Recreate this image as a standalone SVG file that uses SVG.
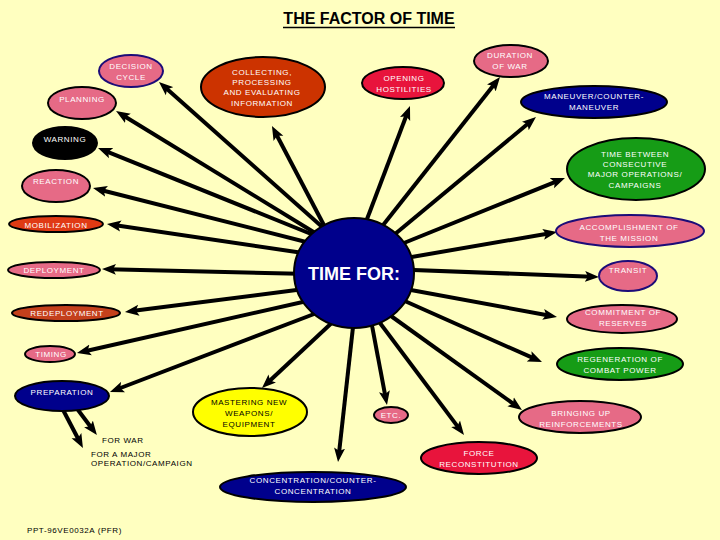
<svg xmlns="http://www.w3.org/2000/svg" width="720" height="540" viewBox="0 0 720 540">
<defs>
<style>
text{font-family:"Liberation Sans",Arial,sans-serif;}
.t{font-size:8px;letter-spacing:0.6px;fill:#fff;text-anchor:middle;}
.k{font-size:8px;letter-spacing:0.6px;fill:#000;}
.pink{fill:#E66A86;stroke:#000;stroke-width:2;}
.pinkb{fill:#E66A86;stroke:#1C0C78;stroke-width:2;}
.navy{fill:#00008C;stroke:#000;stroke-width:2;}
.green{fill:#169C16;stroke:#000;stroke-width:2;}
.red{fill:#E8143C;stroke:#000;stroke-width:2;}
.brown{fill:#CC3300;stroke:#000;stroke-width:2;}
.orange{fill:#E03A14;stroke:#000;stroke-width:2;}
.rust{fill:#C4401C;stroke:#000;stroke-width:2;}
.black{fill:#000;stroke:#000;stroke-width:2;}
.yellow{fill:#FFFF00;stroke:#000;stroke-width:2;}
#connectors line{stroke:#000;stroke-width:4;marker-end:url(#ah);}
</style>
<marker id="ah" markerUnits="userSpaceOnUse" markerWidth="16" markerHeight="12" viewBox="0 -6 16 12" refX="7" refY="0" orient="auto">
<path d="M0,-5.5 L14,0 L0,5.5 L3,0 Z" fill="#000"/>
</marker>
</defs>
<rect width="720" height="540" fill="#FFFFC0"/>
<g id="title">
<text x="369" y="24" font-size="16" text-anchor="middle" font-weight="bold">THE FACTOR OF TIME</text>
<line x1="283" y1="27.5" x2="455" y2="27.5" stroke="#000" stroke-width="1.6"/>
</g>
<g id="connectors">
<line x1="329" y1="233" x2="164.2" y2="86.6"/>
<line x1="325" y1="239" x2="122" y2="114.7"/>
<line x1="321" y1="238" x2="104.5" y2="150.6"/>
<line x1="314" y1="244" x2="99.8" y2="189.7"/>
<line x1="310" y1="254" x2="113.9" y2="225"/>
<line x1="310" y1="274" x2="109" y2="269.2"/>
<line x1="312" y1="288" x2="131.9" y2="311.1"/>
<line x1="316" y1="299" x2="83.8" y2="351.5"/>
<line x1="322" y1="311" x2="116.5" y2="389.5"/>
<line x1="337" y1="318" x2="267.1" y2="383.2"/>
<line x1="354" y1="318" x2="338.8" y2="455"/>
<line x1="370" y1="315" x2="385.7" y2="398.1"/>
<line x1="377" y1="319" x2="459.8" y2="429.4"/>
<line x1="384" y1="311" x2="516.3" y2="405.9"/>
<line x1="398" y1="298" x2="535.6" y2="359.2"/>
<line x1="400" y1="288" x2="550.1" y2="315.7"/>
<line x1="400" y1="269.5" x2="592" y2="276.7"/>
<line x1="400" y1="259" x2="550.1" y2="233.2"/>
<line x1="394" y1="247" x2="558.5" y2="180.6"/>
<line x1="383" y1="244" x2="530.6" y2="121.5"/>
<line x1="380" y1="229" x2="495.7" y2="82.5"/>
<line x1="364" y1="227" x2="407.5" y2="112.5"/>
<line x1="327" y1="231" x2="275.2" y2="132.2"/>
<line x1="61" y1="406" x2="79.7" y2="441.8"/>
<line x1="75" y1="406" x2="92.7" y2="429.5"/>
</g>
<g id="center"><ellipse cx="354" cy="273" rx="60" ry="55" class="navy"/><text x="354" y="280" font-size="18" font-weight="bold" fill="#fff" text-anchor="middle">TIME FOR:</text></g>
<g id="decision-cycle"><ellipse cx="131" cy="71" rx="32" ry="16" class="pinkb"/><text class="t" x="131" y="69">DECISION</text><text class="t" x="131" y="80">CYCLE</text></g>
<g id="planning"><ellipse cx="82" cy="103" rx="34" ry="16" class="pink"/><text class="t" x="82" y="102">PLANNING</text></g>
<g id="warning"><ellipse cx="65" cy="143" rx="32" ry="16" class="black"/><text class="t" x="65" y="142">WARNING</text></g>
<g id="reaction"><ellipse cx="56" cy="186" rx="34" ry="16" class="pink"/><text class="t" x="56" y="184">REACTION</text></g>
<g id="mobilization"><ellipse cx="56" cy="224" rx="47" ry="8" class="orange"/><text class="t" x="56" y="228">MOBILIZATION</text></g>
<g id="deployment"><ellipse cx="54" cy="270" rx="46" ry="8" class="pink"/><text class="t" x="54" y="273">DEPLOYMENT</text></g>
<g id="redeployment"><ellipse cx="66" cy="313" rx="54" ry="8" class="rust"/><text class="t" x="67" y="316">REDEPLOYMENT</text></g>
<g id="timing"><ellipse cx="50" cy="354" rx="25" ry="8" class="pink"/><text class="t" x="51" y="357">TIMING</text></g>
<g id="preparation"><ellipse cx="62" cy="396" rx="47" ry="15" class="navy"/><text class="t" x="62" y="395">PREPARATION</text></g>
<g id="for-war"><text class="k" x="102" y="443">FOR WAR</text></g>
<g id="for-major"><text class="k" x="91" y="457">FOR A MAJOR</text><text class="k" x="91" y="466">OPERATION/CAMPAIGN</text></g>
<g id="mastering"><ellipse cx="250" cy="412" rx="57" ry="24" class="yellow"/><text class="t" style="fill:#000" x="249" y="405">MASTERING NEW</text><text class="t" style="fill:#000" x="249" y="416">WEAPONS/</text><text class="t" style="fill:#000" x="249" y="427">EQUIPMENT</text></g>
<g id="concentration"><ellipse cx="313" cy="487" rx="93" ry="15" class="navy"/><text class="t" x="313" y="483">CONCENTRATION/COUNTER-</text><text class="t" x="313" y="494">CONCENTRATION</text></g>
<g id="etc"><ellipse cx="391" cy="415" rx="17" ry="8" class="pink"/><text class="t" x="391" y="418">ETC.</text></g>
<g id="force-reconstitution"><ellipse cx="479" cy="458" rx="58" ry="16" class="red"/><text class="t" x="479" y="456">FORCE</text><text class="t" x="479" y="467">RECONSTITUTION</text></g>
<g id="bringing-up"><ellipse cx="580" cy="417" rx="61" ry="16" class="pink"/><text class="t" x="581" y="416">BRINGING UP</text><text class="t" x="581" y="427">REINFORCEMENTS</text></g>
<g id="regeneration"><ellipse cx="620" cy="364" rx="63" ry="16" class="green"/><text class="t" x="620" y="362">REGENERATION OF</text><text class="t" x="620" y="373">COMBAT POWER</text></g>
<g id="commitment"><ellipse cx="622" cy="319" rx="55" ry="14" class="pink"/><text class="t" x="623" y="315">COMMITMENT OF</text><text class="t" x="623" y="326">RESERVES</text></g>
<g id="transit"><ellipse cx="628" cy="276" rx="29" ry="15" class="pinkb"/><text class="t" x="628" y="273">TRANSIT</text></g>
<g id="accomplishment"><ellipse cx="630" cy="231" rx="74" ry="16" class="pinkb"/><text class="t" x="629" y="230">ACCOMPLISHMENT OF</text><text class="t" x="629" y="241">THE MISSION</text></g>
<g id="time-between"><ellipse cx="636" cy="169" rx="69" ry="31" class="green"/><text class="t" x="635" y="157">TIME BETWEEN</text><text class="t" x="635" y="167">CONSECUTIVE</text><text class="t" x="635" y="177">MAJOR OPERATIONS/</text><text class="t" x="635" y="188">CAMPAIGNS</text></g>
<g id="maneuver"><ellipse cx="594" cy="102" rx="73" ry="16" class="navy"/><text class="t" x="594" y="99">MANEUVER/COUNTER-</text><text class="t" x="594" y="110">MANEUVER</text></g>
<g id="duration"><ellipse cx="511" cy="61" rx="37" ry="16" class="pink"/><text class="t" x="510" y="58">DURATION</text><text class="t" x="510" y="69">OF WAR</text></g>
<g id="opening"><ellipse cx="403" cy="83" rx="41" ry="16" class="red"/><text class="t" x="404" y="81">OPENING</text><text class="t" x="404" y="92">HOSTILITIES</text></g>
<g id="collecting"><ellipse cx="263" cy="87" rx="62" ry="30" class="brown"/><text class="t" x="262" y="75">COLLECTING,</text><text class="t" x="262" y="85">PROCESSING</text><text class="t" x="262" y="95">AND EVALUATING</text><text class="t" x="262" y="106">INFORMATION</text></g>
<g id="footer"><text class="k" x="27" y="533">PPT-96VE0032A (PFR)</text></g>
</svg>
